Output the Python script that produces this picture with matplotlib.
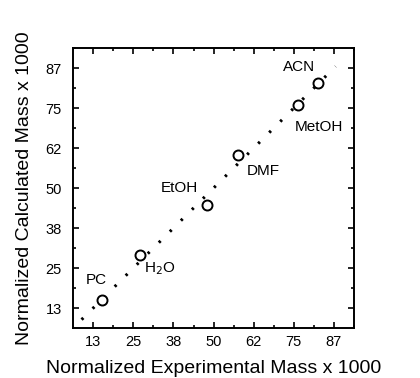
import numpy as np
import matplotlib
matplotlib.use("Agg")
import matplotlib.pyplot as plt
from matplotlib.ticker import FixedLocator

plt.rcParams['font.family'] = ['Liberation Sans', 'DejaVu Sans']

# solvent data (experimental vs calculated, x 1000)
solvents = ['PC', 'H$_2$O', 'EtOH', 'DMF', 'MetOH', 'ACN']
exp_mass = [15.4, 27.0, 47.9, 57.6, 76.3, 82.5]
calc_mass = [15.0, 29.1, 44.8, 60.3, 75.9, 82.9]

# label positions for each solvent
label_x = [13.5, 33.4, 39.4, 65.4, 82.7, 76.5]
label_y = [21.3, 24.9, 50.0, 55.2, 69.0, 87.9]

# ideal y = x line
ideal = [8.9, 88.0]

tick_vals = [12.5, 25, 37.5, 50, 62.5, 75, 87.5]
tick_labels = ['13', '25', '38', '50', '62', '75', '87']

fig = plt.figure(figsize=(4.2, 3.78), dpi=100)
ax = fig.add_axes([0.174, 0.132, 0.669, 0.741])

# dotted y = x line (dash pattern scaled by linewidth)
ax.plot(ideal, ideal, color='black', lw=2.2, linestyle=(0, (0.8, 4.3)),
        dash_capstyle='butt')
ax.plot(exp_mass, calc_mass, 'o', mfc='white', mec='black', ms=7.2, mew=1.4)

for name, lx, ly in zip(solvents, label_x, label_y):
    ax.text(lx, ly, name, fontsize=11, ha='center', va='center')

ax.set_xlim(6.25, 93.75)
ax.set_ylim(6.25, 93.75)
ax.set_xticks(tick_vals)
ax.set_xticklabels(tick_labels)
ax.set_yticks(tick_vals)
ax.set_yticklabels(tick_labels)
minor = [v + 6.25 for v in tick_vals]
ax.xaxis.set_minor_locator(FixedLocator(minor))
ax.yaxis.set_minor_locator(FixedLocator(minor))
ax.tick_params(which='both', direction='in', top=True, right=True,
               labelsize=10.5, width=1.2)
ax.tick_params(which='major', length=4.5)
ax.tick_params(which='minor', length=2.5)
ax.tick_params(axis='x', pad=5)
ax.tick_params(axis='y', pad=8)
for s in ax.spines.values():
    s.set_linewidth(1.4)

ax.set_xlabel('Normalized Experimental Mass x 1000', fontsize=14, labelpad=8)
ax.set_ylabel('Normalized Calculated Mass x 1000', fontsize=14, labelpad=9)

fig.savefig('out.png', dpi=100)
